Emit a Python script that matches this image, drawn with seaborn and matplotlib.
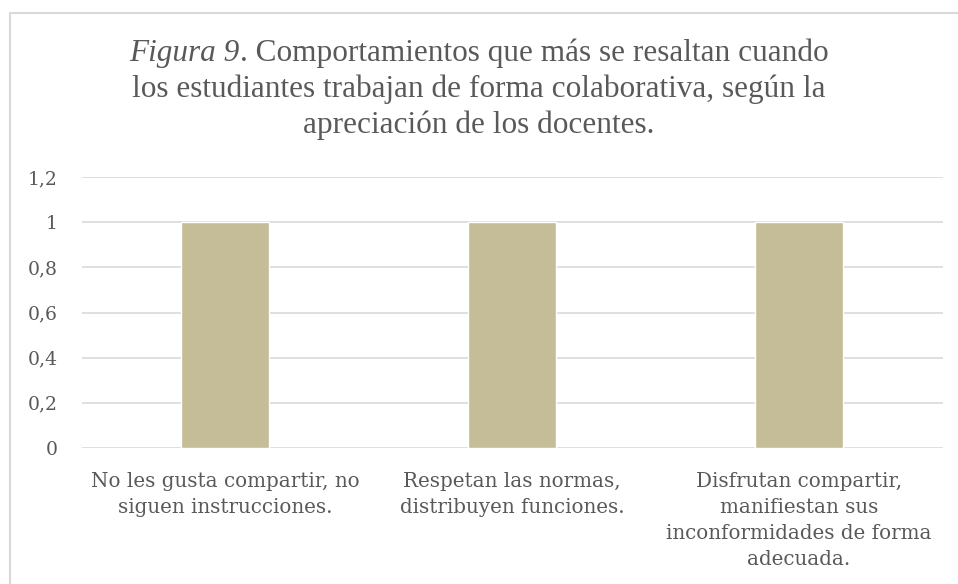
import matplotlib
matplotlib.use("Agg")
import matplotlib.pyplot as plt
import seaborn as sns
import pandas as pd
from matplotlib.patches import Rectangle
from matplotlib.ticker import FuncFormatter

categories = [
    "No les gusta compartir, no\nsiguen instrucciones.",
    "Respetan las normas,\ndistribuyen funciones.",
    "Disfrutan compartir,\nmanifiestan sus\ninconformidades de forma\nadecuada.",
]
values = [1, 1, 1]
yticks = [0, 0.2, 0.4, 0.6, 0.8, 1.0, 1.2]
title_italic = "Figura 9"
title_lines = [
    ". Comportamientos que más se resaltan cuando",
    "los estudiantes trabajan de forma colaborativa, según la",
    "apreciación de los docentes.",
]

sns.set_theme(style="white")
plt.rcParams["font.family"] = ["DejaVu Serif"]

W, H = 958, 584
fig = plt.figure(figsize=(W / 100, H / 100), dpi=100)
ax = fig.add_axes([81.5 / W, 1 - 448 / H, (942.5 - 81.5) / W, (448 - 177) / H])

df = pd.DataFrame({"cat": categories, "val": values})
sns.barplot(data=df, x="cat", y="val", color="#C4BD97", width=0.31,
            saturation=1, ax=ax, zorder=3)

ax.set_ylim(0, 1.2)
ax.set_yticks(yticks)
ax.yaxis.set_major_formatter(FuncFormatter(lambda v, p: ("%g" % round(v, 1)).replace(".", ",")))
ax.grid(axis="y", color="#D9D9D9", linewidth=1.2, zorder=0)
for s in ax.spines.values():
    s.set_visible(False)
ax.set_xlabel("")
ax.set_ylabel("")
ax.tick_params(axis="y", length=0, pad=17, labelsize=13.5, labelcolor="#595959")
ax.tick_params(axis="x", length=0, pad=17.5, labelsize=14.3, labelcolor="#595959")
for lbl in ax.get_xticklabels():
    lbl.set_linespacing(1.45)

# Title: first line made of italic + regular parts, centered together
tcol = "#595959"
tsize = 22.5
fam = "Liberation Serif"
renderer = fig.canvas.get_renderer()
y_lines = [53, 89, 125]
t_it = fig.text(0, 1 - y_lines[0] / H, title_italic, ha="left", va="center",
                fontsize=tsize, color=tcol, family=fam, style="italic")
t_rg = fig.text(0, 1 - y_lines[0] / H, title_lines[0], ha="left", va="center",
                fontsize=tsize, color=tcol, family=fam)
w_it = t_it.get_window_extent(renderer).width
w_rg = t_rg.get_window_extent(renderer).width
x0 = (W - (w_it + w_rg)) / 2
t_it.set_x(x0 / W)
t_rg.set_x((x0 + w_it) / W)
for yl, line in zip(y_lines[1:], title_lines[1:]):
    fig.text(0.5, 1 - yl / H, line, ha="center", va="center",
             fontsize=tsize, color=tcol, family=fam)

fig.patches.append(Rectangle((9.5 / W, -0.1), 1.2, (1 - 13.5 / H) + 0.1,
                             transform=fig.transFigure, fill=False,
                             edgecolor="#D9D9D9", linewidth=1.5))

fig.savefig("out.png", dpi=100)
